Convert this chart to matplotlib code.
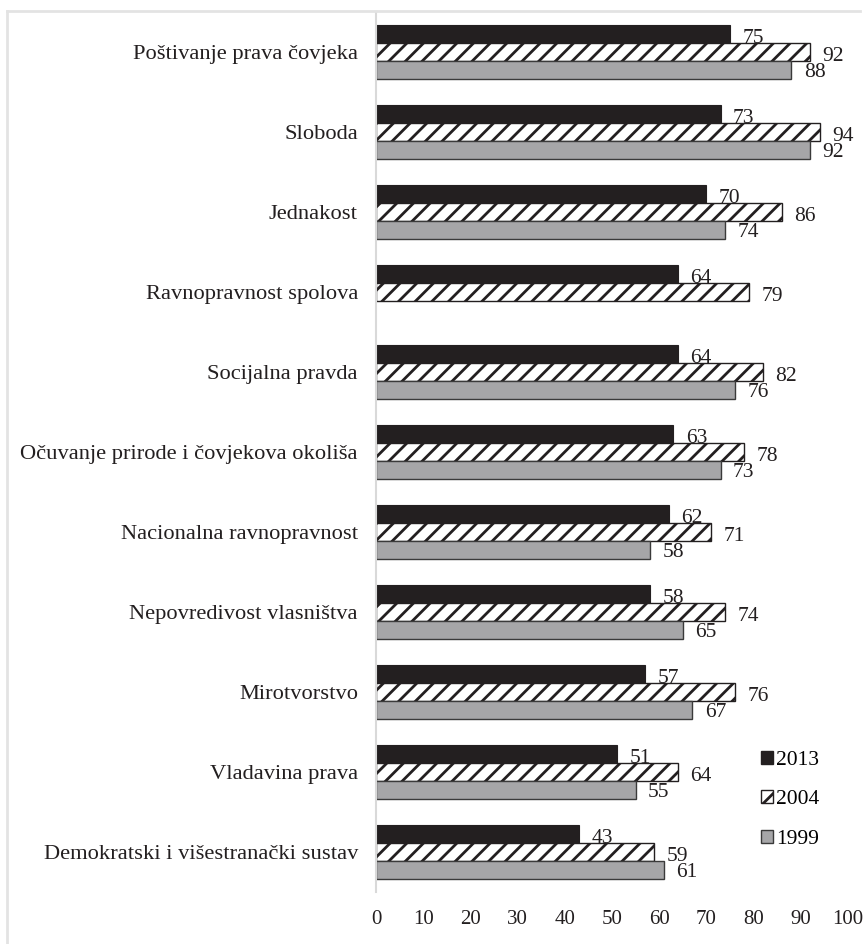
import numpy as np
import matplotlib
matplotlib.use("Agg")
import matplotlib.pyplot as plt
from matplotlib.lines import Line2D
from matplotlib.patches import Patch

# category labels, top to bottom
categories = ['Poštivanje prava čovjeka', 'Sloboda', 'Jednakost', 'Ravnopravnost spolova',
              'Socijalna pravda', 'Očuvanje prirode i čovjekova okoliša', 'Nacionalna ravnopravnost',
              'Nepovredivost vlasništva', 'Mirotvorstvo', 'Vladavina prava',
              'Demokratski i višestranački sustav']
v2013 = [75, 73, 70, 64, 64, 63, 62, 58, 57, 51, 43]
v2004 = [92, 94, 86, 79, 82, 78, 71, 74, 76, 64, 59]
v1999 = [88, 92, 74, np.nan, 76, 73, 58, 65, 67, 55, 61]
years = ['2013', '2004', '1999']
xticks = [0, 10, 20, 30, 40, 50, 60, 70, 80, 90, 100]

plt.rcParams['font.family'] = ['Liberation Serif', 'DejaVu Serif']
plt.rcParams['hatch.linewidth'] = 2.0

fig = plt.figure(figsize=(8.63, 9.44), dpi=100)
ax = fig.add_axes([376 / 863, 1 - 892 / 944, (848 - 376) / 863, (892 - 12) / 944])

y = np.arange(len(categories))
h = 0.225
txt = '#231f20'

ax.barh(y - h, v2013, height=h, color='#231f20', edgecolor='#231f20', linewidth=0.8)
ax.barh(y, v2004, height=h, color='white', edgecolor='#231f20', hatch='//', linewidth=1.0)
ax.barh(y + h, v1999, height=h, color='#a6a6a8', edgecolor='#3a3a3a', linewidth=1.0)

# value labels
for vals, off, dy in [(v2013, -h, -3), (v2004, 0, -3), (v1999, h, -2)]:
    for i, v in enumerate(vals):
        if np.isnan(v):
            continue
        ax.annotate(f'{v:.0f}', xy=(v, i + off), xytext=(9, dy), textcoords='offset points',
                    ha='left', va='center', fontsize=15.5, color=txt)

ax.set_xlim(0, 100)
ax.set_ylim(len(categories) - 0.5, -0.5)
ax.set_yticks(y)
ax.set_yticklabels(categories, fontsize=16.2, color=txt)
ax.set_xticks(xticks)
ax.set_xticklabels([str(t) for t in xticks], fontsize=15, color=txt)
ax.tick_params(axis='both', length=0)
ax.tick_params(axis='y', pad=13)
ax.tick_params(axis='x', pad=13)

for s in ['top', 'right', 'bottom']:
    ax.spines[s].set_visible(False)
ax.spines['left'].set_color('#d9d9d9')
ax.spines['left'].set_linewidth(1.5)

handles = [Patch(facecolor='#231f20', edgecolor='#231f20'),
           Patch(facecolor='white', edgecolor='#231f20', hatch='//'),
           Patch(facecolor='#a6a6a8', edgecolor='#3a3a3a')]
fig.legend(handles, years, loc='upper left', bbox_to_anchor=(750 / 863, 1 - 740 / 944),
           frameon=False, fontsize=15.5, handlelength=0.55, handleheight=0.55,
           handletextpad=0.15, labelspacing=0.95, borderpad=0)

# light frame on top and left
fig.add_artist(Line2D([7 / 863, 860 / 863], [1 - 11 / 944, 1 - 11 / 944],
                      transform=fig.transFigure, color='#e3e3e3', lw=2))
fig.add_artist(Line2D([7 / 863, 7 / 863], [0, 1 - 11 / 944],
                      transform=fig.transFigure, color='#e3e3e3', lw=2))

fig.savefig('out.png', dpi=100)
